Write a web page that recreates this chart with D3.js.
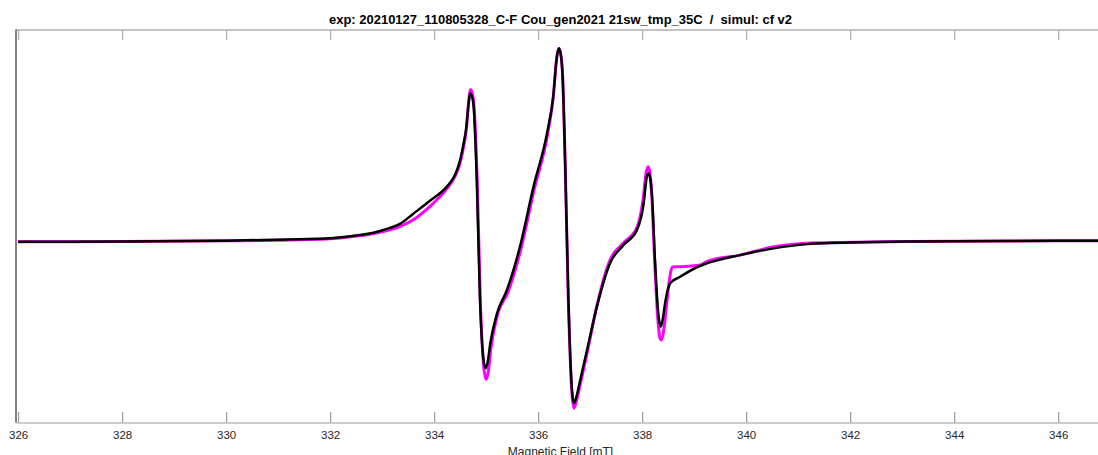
<!DOCTYPE html>
<html>
<head>
<meta charset="utf-8">
<script src="https://cdn.jsdelivr.net/npm/d3@7"></script>
<style>
  body { margin: 0; background: #fff; overflow: hidden; }
  text { font-family: "Liberation Sans", Arial, sans-serif; }
</style>
</head>
<body>
<div id="chart"></div>
<script>
// field in mT, intensity normalised (arb. units)
const expField = [326.0, 328.0, 330.0, 331.4, 332.0, 332.4, 332.7, 332.96, 333.15, 333.35, 333.6, 333.92, 334.24, 334.4, 334.5, 334.56, 334.62, 334.66, 334.69, 334.72, 334.76, 334.82, 334.88, 334.95, 334.99, 335.03, 335.08, 335.21, 335.4, 335.65, 335.91, 336.17, 336.29, 336.36, 336.4, 336.44, 336.47, 336.52, 336.58, 336.65, 336.69, 336.73, 336.81, 336.94, 337.13, 337.38, 337.64, 337.9, 338.03, 338.09, 338.13, 338.16, 338.19, 338.25, 338.31, 338.36, 338.4, 338.44, 338.54, 338.73, 339.12, 339.24, 339.88, 340.53, 341.17, 341.81, 343.09, 345.0, 347.0];
const expSignal = [-0.004, -0.003, 0.002, 0.009, 0.014, 0.025, 0.036, 0.052, 0.068, 0.09, 0.142, 0.209, 0.281, 0.342, 0.42, 0.497, 0.592, 0.705, 0.765, 0.756, 0.696, 0.316, -0.289, -0.617, -0.66, -0.627, -0.53, -0.375, -0.254, -0.03, 0.281, 0.558, 0.748, 0.955, 0.998, 0.959, 0.86, 0.403, -0.289, -0.772, -0.841, -0.813, -0.72, -0.565, -0.34, -0.116, -0.021, 0.057, 0.195, 0.333, 0.351, 0.316, 0.23, -0.116, -0.375, -0.444, -0.399, -0.323, -0.219, -0.185, -0.128, -0.116, -0.073, -0.038, -0.016, -0.009, -0.002, 0.0, 0.002];

const simField = [326.0, 328.0, 330.0, 331.4, 332.0, 332.4, 332.7, 332.96, 333.15, 333.35, 333.6, 333.92, 334.24, 334.4, 334.5, 334.56, 334.62, 334.66, 334.7, 334.73, 334.77, 334.83, 334.89, 334.95, 335.0, 335.04, 335.09, 335.22, 335.42, 335.67, 335.93, 336.18, 336.29, 336.36, 336.4, 336.44, 336.47, 336.52, 336.58, 336.65, 336.69, 336.73, 336.82, 336.95, 337.13, 337.38, 337.64, 337.9, 338.02, 338.08, 338.12, 338.15, 338.18, 338.24, 338.3, 338.34, 338.37, 338.41, 338.47, 338.53, 338.58, 338.73, 339.12, 339.24, 339.88, 340.53, 341.17, 341.81, 343.09, 345.0, 347.0];
const simSignal = [-0.004, -0.003, 0.001, 0.007, 0.012, 0.022, 0.032, 0.045, 0.058, 0.076, 0.11, 0.18, 0.27, 0.335, 0.405, 0.48, 0.58, 0.71, 0.785, 0.77, 0.69, 0.3, -0.32, -0.64, -0.717, -0.68, -0.56, -0.38, -0.265, -0.04, 0.275, 0.55, 0.745, 0.955, 1.0, 0.96, 0.86, 0.4, -0.3, -0.79, -0.867, -0.835, -0.73, -0.57, -0.335, -0.1, -0.01, 0.07, 0.22, 0.36, 0.385, 0.35, 0.26, -0.1, -0.4, -0.5, -0.513, -0.47, -0.33, -0.19, -0.135, -0.133, -0.124, -0.107, -0.073, -0.03, -0.012, -0.007, -0.002, 0.0, 0.002];

const xTicks = [326, 328, 330, 332, 334, 336, 338, 340, 342, 344, 346];
const xLimits = [325.96, 346.9];
const yLimits = [-0.941, 1.097];
const titleText = 'exp: 20210127_110805328_C-F Cou_gen2021 21sw_tmp_35C  /  simul: cf v2';
const xLabelText = 'Magnetic Field [mT]';

const width = 1098, height = 455;
const margin = { top: 29.5, right: -7, bottom: 32.5, left: 16 };
const innerW = width - margin.left - margin.right;
const innerH = height - margin.top - margin.bottom;

const svg = d3.select('#chart').append('svg')
    .attr('width', width)
    .attr('height', height);

const g = svg.append('g').attr('transform', `translate(${margin.left},${margin.top})`);

const x = d3.scaleLinear().domain(xLimits).range([0, innerW]);
const y = d3.scaleLinear().domain(yLimits).range([innerH, 0]);

// bottom axis, ticks pointing inward
const xAxis = d3.axisBottom(x).tickValues(xTicks).tickSizeInner(-10.5).tickSizeOuter(0);
const axB = g.append('g').attr('transform', `translate(0,${innerH})`).call(xAxis);
axB.select('.domain').attr('stroke', '#9a9a9a').attr('stroke-width', 1.2);
axB.selectAll('.tick line').attr('stroke', '#a0a0a0').attr('stroke-width', 1.3);
axB.selectAll('.tick text').attr('fill', '#262626').style('font-size', '11.5px').attr('dy', '0.35em').attr('y', 12);

// top border with ticks
const xTop = d3.axisTop(x).tickValues(xTicks).tickSizeInner(-10.5).tickSizeOuter(0).tickFormat('');
const axT = g.append('g').call(xTop);
axT.select('.domain').attr('stroke', '#8a8a8a').attr('stroke-width', 1.2);
axT.selectAll('.tick line').attr('stroke', '#b0b0b0').attr('stroke-width', 1.3);

// left border (no tick labels)
g.append('line')
    .attr('x1', 0).attr('x2', 0)
    .attr('y1', 0).attr('y2', innerH)
    .attr('stroke', '#3c3c3c').attr('stroke-width', 1.3);

const line = d3.line()
    .x(d => x(d[0]))
    .y(d => y(d[1]))
    .curve(d3.curveMonotoneX);

g.append('clipPath').attr('id', 'clip')
    .append('rect').attr('width', innerW).attr('height', innerH);

const plot = g.append('g').attr('clip-path', 'url(#clip)');

plot.append('path')
    .datum(d3.zip(simField, simSignal))
    .attr('fill', 'none')
    .attr('stroke', '#ff00ff')
    .attr('stroke-width', 3)
    .attr('stroke-linejoin', 'round')
    .attr('d', line);

plot.append('path')
    .datum(d3.zip(expField, expSignal))
    .attr('fill', 'none')
    .attr('stroke', '#000')
    .attr('stroke-width', 2.5)
    .attr('stroke-linejoin', 'round')
    .attr('d', line);

// title
svg.append('text')
    .attr('x', margin.left + innerW / 2)
    .attr('y', 24)
    .attr('text-anchor', 'middle')
    .style('font-size', '12.5px')
    .style('font-weight', 'bold')
    .style('white-space', 'pre')
    .attr('textLength', 463)
    .attr('lengthAdjust', 'spacingAndGlyphs')
    .attr('fill', '#000')
    .text(titleText);

// x label (partly below the window edge, as in the original)
svg.append('text')
    .attr('x', margin.left + innerW / 2)
    .attr('y', 456)
    .attr('text-anchor', 'middle')
    .style('font-size', '12px')
    .attr('fill', '#262626')
    .text(xLabelText);
</script>
</body>
</html>
